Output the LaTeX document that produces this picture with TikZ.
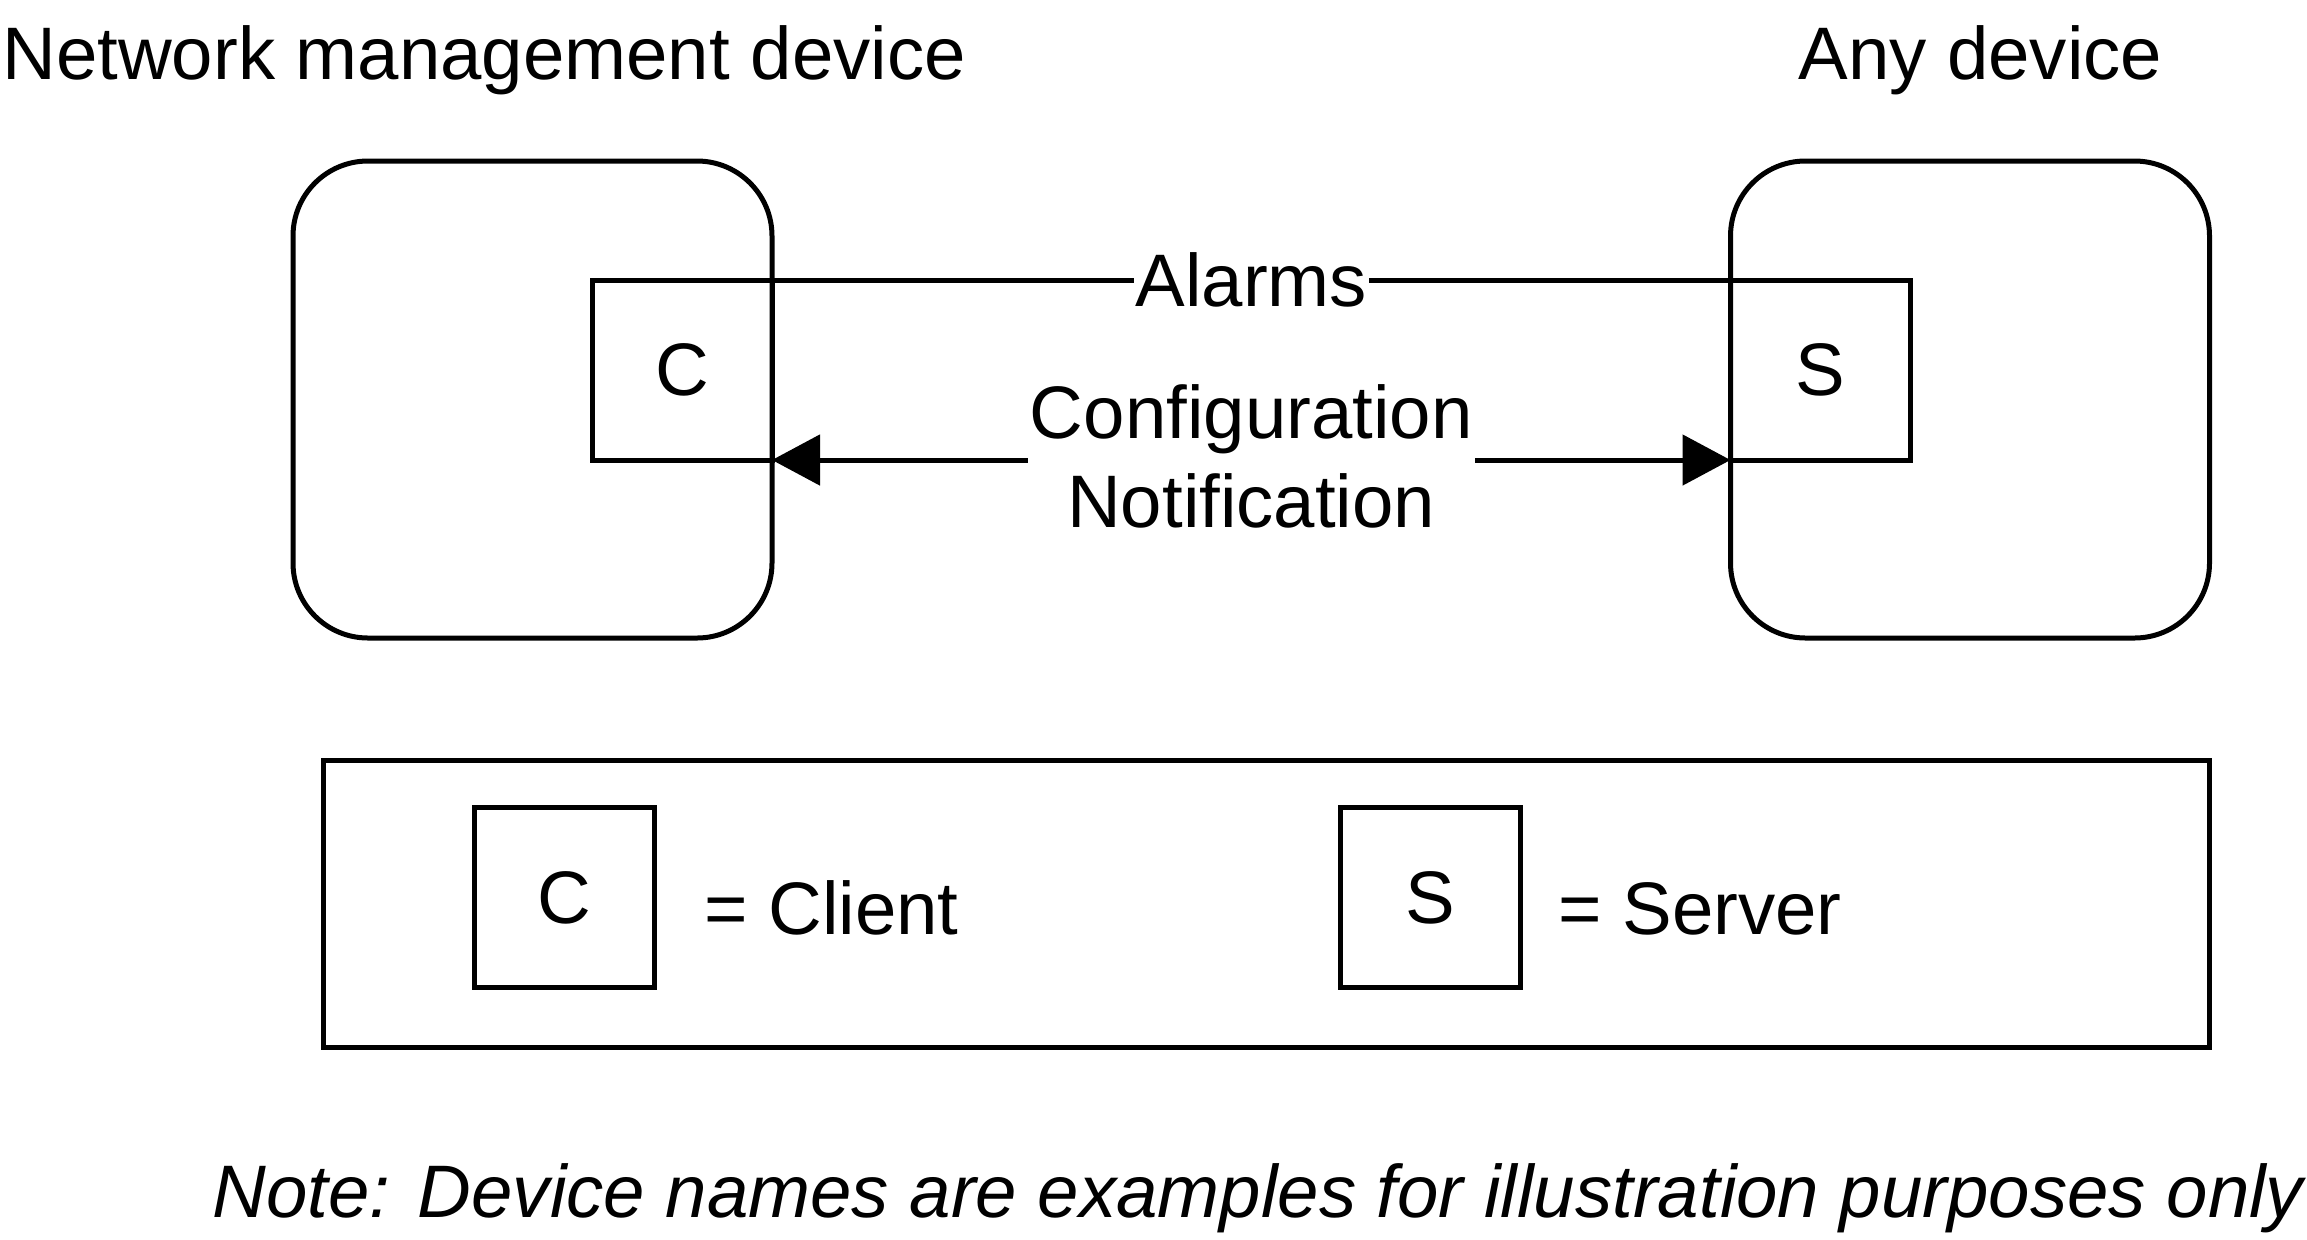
\documentclass[tikz,border=0pt]{standalone}
\usepackage{fontspec}
\setmainfont{Liberation Sans}
\usetikzlibrary{arrows.meta}
\begin{document}
\begin{tikzpicture}[x=0.5pt,y=-0.5pt,
  every node/.style={font=\fontsize{37.2pt}{44.6pt}\selectfont},
  lw/.style={line width=2.5pt},
  dev/.style={draw,lw,rounded corners=37.5pt,minimum width=239.5pt,minimum height=238.5pt,outer sep=0pt,inner sep=0pt},
  sq/.style={draw,lw,minimum size=90pt,inner sep=0pt,outer sep=0pt},
  lab/.style={fill=white,inner xsep=1pt,inner ysep=0pt},
  txt/.style={inner sep=0pt},
  bothtips/.style={arrows={Triangle[length=24pt,width=25pt]-Triangle[length=24pt,width=25pt]}}
]
\useasboundingbox (0,0) rectangle (2307,1239);

% titles
\node[txt,anchor=base west] (t1) at (2,79) {Network management device};
\node[txt,anchor=base west] (t2) at (1798,79) {Any device};

% device boxes
\node[dev] (L) at (532.5,399.5) {};
\node[dev] (R) at (1970,399.5) {};
\node[sq] (C) at (682,370) {C};
\node[sq] (S) at (1820.5,370) {S};

% connectors
\draw[lw] (C.north east) -- node[lab] (al) {Alarms} (S.north west);
\draw[lw,bothtips] (C.south east) -- node[lab,align=center,yshift=2pt] (cfg) {Configuration\\Notification} (S.south west);

% legend
\node[draw,lw,minimum width=943pt,minimum height=143.5pt,outer sep=0pt,inner sep=0pt] (leg) at (1266,903.5) {};
\node[sq] (lc) at (564,897.5) {C};
\node[sq] (ls) at (1430.5,897.5) {S};
\node[txt,anchor=base west] (lct) at (704,934) {= Client};
\node[txt,anchor=base west] (lst) at (1558,934) {= Server};

% note
\node[txt,anchor=base west,font=\fontsize{37.2pt}{44.6pt}\selectfont\itshape] (nt) at (212,1217) {Note: Device names are examples for illustration purposes only};
\end{tikzpicture}
\end{document}
